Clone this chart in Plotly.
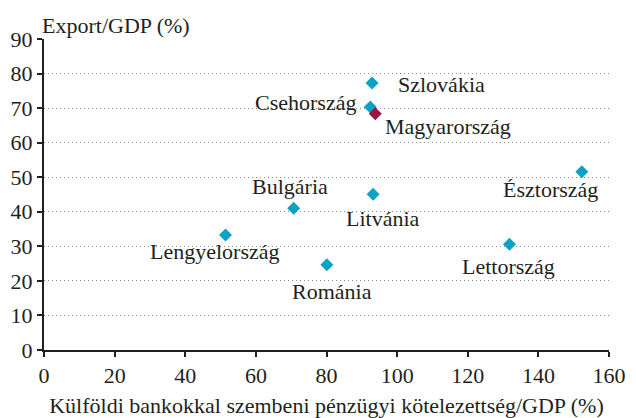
import plotly.graph_objects as go

countries = ["Szlovákia", "Csehország", "Észtország", "Bulgária", "Litvánia",
             "Lengyelország", "Lettország", "Románia", "Magyarország"]
x_vals = [92.9, 92.4, 152.3, 70.7, 93.2, 51.4, 131.8, 80.1, 93.8]
y_vals = [77.3, 70.3, 51.6, 41.0, 45.1, 33.3, 30.6, 24.7, 68.4]
colors = ["#0aa3c4"] * 8 + ["#9a1640"]
# label offsets in pixels (dx, dy) and anchors
label_pos = [(24, -2, "left"), (-12, 5, "right"), (18, -18, "right"), (-4, 22, "center"),
             (10, -24, "center"), (-11, -17, "center"), (-1, -22, "center"), (5, -27, "center"),
             (8, -13, "left")]

x_ticks = [0, 20, 40, 60, 80, 100, 120, 140, 160]
y_ticks = [0, 10, 20, 30, 40, 50, 60, 70, 80, 90]

FONT = "Liberation Serif"
TXT = "#231f20"
FS = 22

fig = go.Figure()
fig.add_trace(go.Scatter(
    x=x_vals, y=y_vals, mode="markers",
    marker=dict(symbol="diamond", size=10, color=colors, line=dict(width=0)),
    hoverinfo="skip", showlegend=False, cliponaxis=False))

for name, x, y, (dx, dy, anc) in zip(countries, x_vals, y_vals, label_pos):
    fig.add_annotation(x=x, y=y, xref="x", yref="y", text=name, showarrow=False,
                       xanchor=anc, yanchor="middle", xshift=dx, yshift=dy,
                       font=dict(family=FONT, size=FS, color=TXT))

fig.add_annotation(x=0, y=1, xref="paper", yref="paper", text="Export/GDP (%)",
                   showarrow=False, xanchor="left", yanchor="middle",
                   xshift=-4, yshift=14,
                   font=dict(family=FONT, size=FS, color=TXT))

fig.update_layout(
    width=636, height=418,
    margin=dict(l=43.5, r=27, t=38.5, b=67.5, pad=0),
    paper_bgcolor="white", plot_bgcolor="white",
    font=dict(family=FONT, size=FS, color=TXT),
    xaxis=dict(range=[0, 160], tickvals=x_ticks, showgrid=False, zeroline=False,
               showline=True, linecolor=TXT, linewidth=2, automargin=False,
               ticks="outside", ticklen=5, tickwidth=2, tickcolor=TXT,
               tickfont=dict(family=FONT, size=FS, color=TXT),
               title=dict(text="Külföldi bankokkal szembeni pénzügyi kötelezettség/GDP (%)",
                          standoff=10, font=dict(family=FONT, size=FS, color=TXT))),
    yaxis=dict(range=[0, 90], tickvals=y_ticks, showgrid=True, gridcolor="#8a8a8a",
               griddash="1px,3px", gridwidth=1, zeroline=False, automargin=False,
               showline=True, linecolor=TXT, linewidth=2,
               ticks="outside", ticklen=5, tickwidth=2, tickcolor=TXT,
               tickfont=dict(family=FONT, size=FS, color=TXT)),
)

fig.write_html("out.html", config={"displayModeBar": False},
               post_script="document.body.style.margin='0';document.body.style.padding='0';")
